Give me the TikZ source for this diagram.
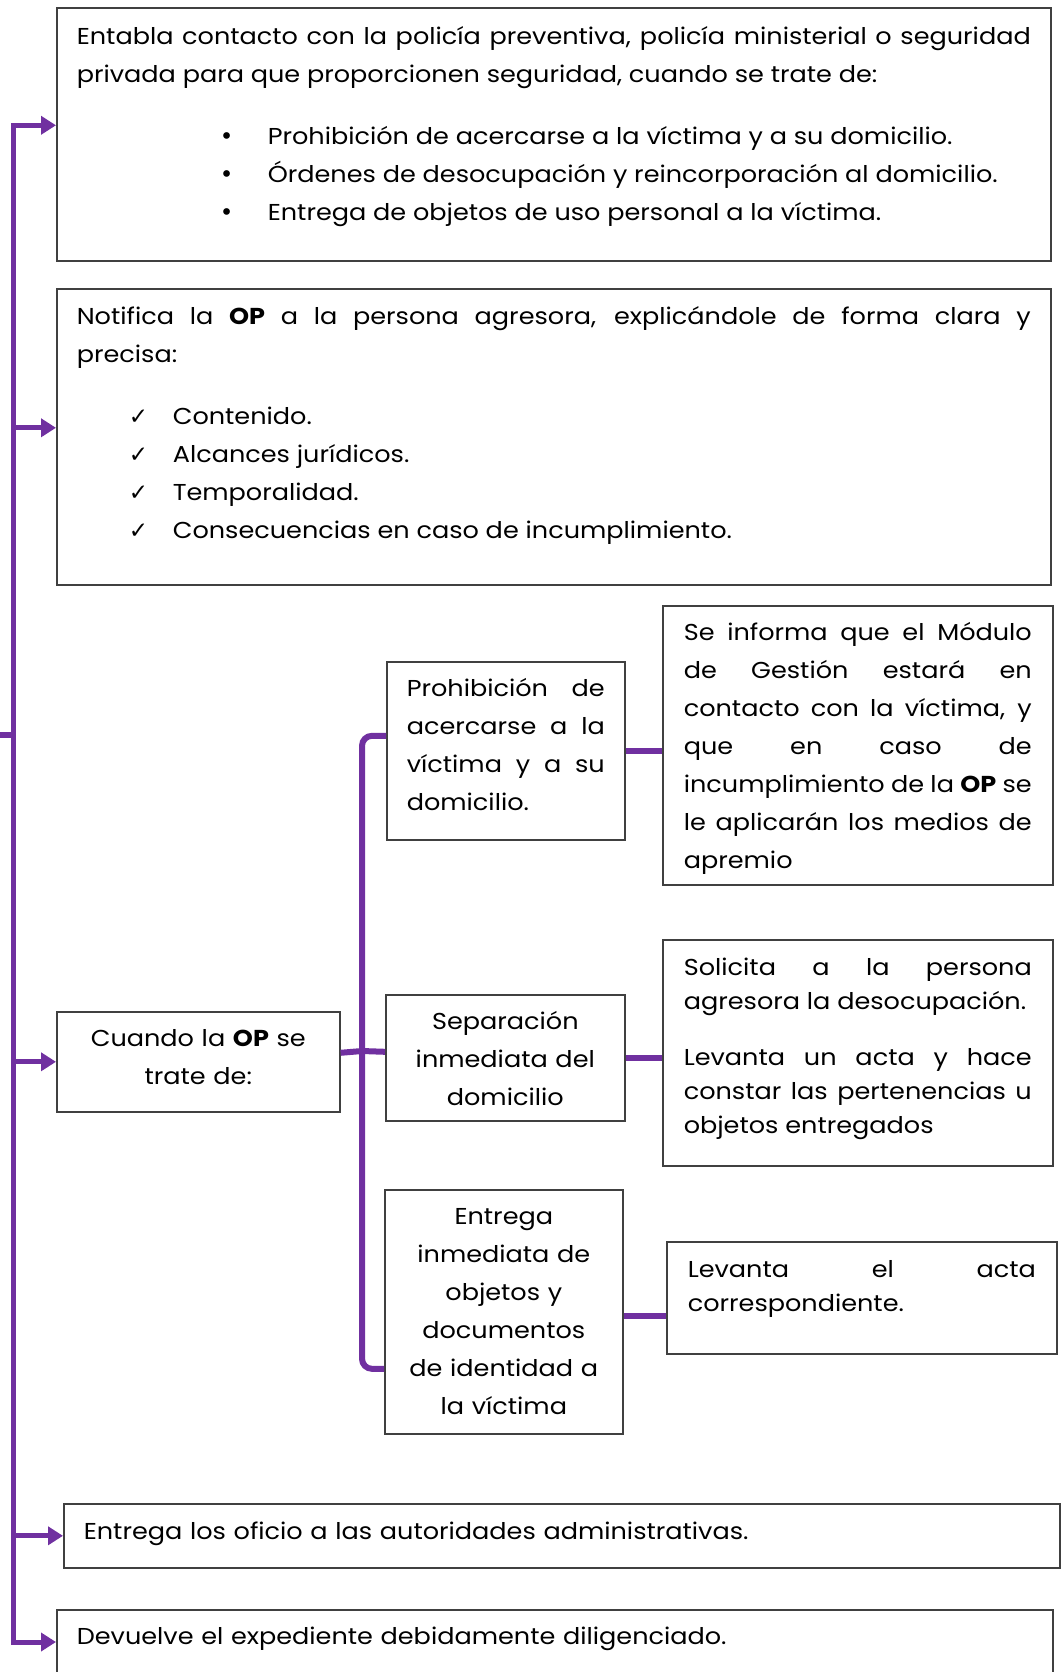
\documentclass[tikz,border=0pt]{standalone}
\usepackage{fontspec}
\setmainfont{Poppins}[FakeStretch=1.11]
\newfontfamily\simbolos{DejaVu Sans}
\usepackage{xcolor}
\usetikzlibrary{positioning,calc,arrows.meta}
\definecolor{morado}{RGB}{112, 48, 160}
\definecolor{bordegris}{RGB}{64, 64, 64}
\setlength{\parindent}{0pt}
\newcommand{\vineta}{\hspace*{143pt}\makebox[48pt][l]{\simbolos •}}
\newcommand{\palomita}{\hspace*{52pt}\makebox[44pt][l]{\simbolos ✓}}

\begin{document}
\begin{tikzpicture}[x=1pt,y=-1pt,
        caja/.style={draw=bordegris,line width=1.6pt,anchor=north west,inner ysep=0pt,inner xsep=20pt,
            font=\fontsize{23}{38}\selectfont},
        apretada/.style={font=\fontsize{23}{34}\selectfont},
        linea/.style={morado,line width=6pt},
        flecha/.style={morado,line width=5pt,-{Triangle[length=15pt,width=18pt]}}]
        \useasboundingbox (0,0) rectangle (1063,1672);
        \clip (0,0) rectangle (1063,1672);

        % Cajas principales
        \node[caja,text width=954pt,align=justify,text height=37pt,text depth=216pt] (contacto) at (56,7)
            {Entabla contacto con la policía preventiva, policía ministerial o seguridad\linebreak
             privada para que proporcionen seguridad, cuando se trate de:\par\vspace{24pt}
             \vineta Prohibición de acercarse a la víctima y a su domicilio.\par
             \vineta Órdenes de desocupación y reincorporación al domicilio.\par
             \vineta Entrega de objetos de uso personal a la víctima.};
        \node[caja,text width=954pt,align=justify,text height=36pt,text depth=260pt] (notifica) at (56,288)
            {Notifica la \textbf{OP} a la persona agresora, explicándole de forma clara y\linebreak
             precisa:\par\vspace{24pt}
             \palomita Contenido.\par
             \palomita Alcances jurídicos.\par
             \palomita Temporalidad.\par
             \palomita Consecuencias en caso de incumplimiento.};
        \node[caja,text width=243pt,align=center,text height=35pt,text depth=65pt] (cuando) at (56,1011)
            {Cuando la \textbf{OP} se\\ trate de:};
        \node[caja,text width=956pt,text height=36pt,text depth=28pt] (oficio) at (63,1503)
            {Entrega los oficio a las autoridades administrativas.};
        \node[caja,text width=956pt,text height=35pt,text depth=60pt] (devuelve) at (56,1609)
            {Devuelve el expediente debidamente diligenciado.};

        % Tipos de OP
        \node[caja,text width=198pt,align=justify,text height=35pt,text depth=143pt] (prohib) at (386,661)
            {Prohibición de\linebreak acercarse a la\linebreak víctima y a su\linebreak domicilio.};
        \node[caja,text width=199pt,align=center,text height=35pt,text depth=91pt] (separa) at (385,994)
            {Separación\\ inmediata del\\ domicilio};
        \node[caja,text width=198pt,align=center,text height=35pt,text depth=209pt] (entrega) at (384,1189)
            {Entrega\\ inmediata de\\ objetos y\\ documentos\\ de identidad a\\ la víctima};

        % Acciones por tipo
        \node[caja,text width=348pt,inner xsep=21pt,align=justify,text height=35pt,text depth=244pt] (informa) at (662,605)
            {Se informa que el Módulo\linebreak de Gestión estará en\linebreak contacto con la víctima, y\linebreak
             que en caso de\linebreak incumplimiento de la \textbf{OP} se\linebreak le aplicarán los medios de\linebreak apremio};
        \node[caja,apretada,text width=348pt,inner xsep=21pt,align=justify,text height=36pt,text depth=190pt] (solicita) at (662,939)
            {Solicita a la persona\linebreak agresora la desocupación.\par\vspace{22pt}
             Levanta un acta y hace\linebreak constar las pertenencias u\linebreak objetos entregados};
        \node[caja,apretada,text width=348pt,inner xsep=21pt,align=justify,text height=36pt,text depth=76pt] (levanta) at (666,1241)
            {Levanta el acta\linebreak correspondiente.};

        % Tronco
        \coordinate (talon) at (0,735);
        \coordinate (tronco) at (13,735);
        \draw[linea] (talon) -- (tronco);
        \draw[flecha] (tronco) |- ([yshift=9pt]contacto.west);
        \draw[flecha] (tronco) |- ([yshift=9pt]notifica.west);
        \draw[flecha] (tronco) |- (cuando.west);
        \draw[flecha] (tronco) |- (oficio.west);
        \draw[flecha] (tronco) |- ([yshift=-33pt]devuelve.north west);

        % Llave
        \coordinate (nudo) at (362,1051);
        \draw[linea,rounded corners=10pt] ([yshift=15pt]prohib.west) -| (nudo) |- ([yshift=-57pt]entrega.west);
        \draw[linea] ([yshift=9pt]cuando.east) -- (nudo) -- ([yshift=6pt]separa.west);

        % Enlaces
        \draw[linea] (prohib.east) -- (prohib.east -| informa.west);
        \draw[linea] (separa.east) -- (separa.east -| solicita.west);
        \draw[linea] ([yshift=-4pt]entrega.east) -- ([yshift=-4pt]entrega.east -| levanta.west);

    \end{tikzpicture}
\end{document}
